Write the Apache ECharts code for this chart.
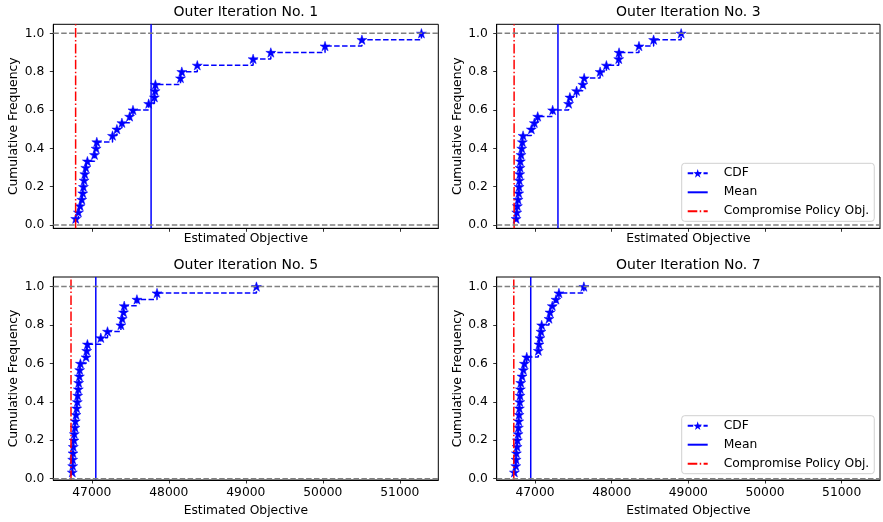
<!DOCTYPE html>
<html>
<head>
<meta charset="utf-8">
<script src="https://cdn.jsdelivr.net/npm/echarts@6/dist/echarts.min.js"></script>
<style>
  html, body { margin: 0; padding: 0; background: #fff; }
  #chart { width: 883px; height: 522px; }
</style>
</head>
<body>
<div id="chart"></div>
<script>
// sorted samples of the estimated objective, one array per outer iteration
const iter1 = [46791, 46826, 46848, 46870, 46883, 46891, 46900, 46909, 46922, 46943,
  47035, 47056, 47065, 47269, 47326, 47391, 47491, 47535, 47739, 47813,
  47822, 47826, 48152, 48169, 48370, 49095, 49325, 50029, 50508, 51281];
const iter3 = [46753, 46762, 46770, 46779, 46788, 46792, 46796, 46801, 46805, 46809,
  46818, 46827, 46835, 46844, 46952, 46991, 47035, 47230, 47438, 47455,
  47542, 47624, 47641, 47849, 47931, 48092, 48096, 48356, 48547, 48906];
const iter5 = [46747, 46752, 46752, 46756, 46760, 46769, 46773, 46782, 46786, 46795,
  46804, 46812, 46817, 46825, 46830, 46839, 46843, 46852, 46925, 46934,
  46943, 47117, 47204, 47378, 47395, 47412, 47421, 47586, 47847, 49138];
const iter7 = [46731, 46749, 46753, 46757, 46766, 46770, 46779, 46783, 46788, 46792,
  46796, 46801, 46805, 46809, 46814, 46831, 46848, 46861, 46892, 47043,
  47052, 47065, 47078, 47087, 47182, 47195, 47225, 47273, 47312, 47637];

const titles = ["Outer Iteration No. 1", "Outer Iteration No. 3", "Outer Iteration No. 5", "Outer Iteration No. 7"];
const meanValues = [47770, 47299, 47052, 46944];
const compromiseValues = [46790, 46727, 46730, 46723];
const xTicks = [47000, 48000, 49000, 50000, 51000];
const yTicks = [0, 0.2, 0.4, 0.6, 0.8, 1.0];
const refLevels = [0, 1];
const legendNames = ["CDF", "Mean", "Compromise Policy Obj."];

const FONT = "DejaVu Sans";
const FS = 12.3;
const X_MIN = 46500, X_MAX = 51500;

// panel boxes in px: [left, top, width, height, yMin, yMax]
const panels = [
  [53.3, 24.3, 385, 204, -0.017, 1.047],
  [496.7, 24.3, 383.3, 204, -0.017, 1.047],
  [53.3, 277, 385, 203, -0.007, 1.05],
  [496.7, 277, 383.3, 203, -0.007, 1.05],
];

function starPath() {
  const pts = [];
  for (let i = 0; i < 10; i++) {
    const r = i % 2 === 0 ? 1 : 0.381966;
    const a = Math.PI / 2 + i * Math.PI / 5;
    pts.push([(r * Math.cos(a) * 50 + 50).toFixed(2), (-r * Math.sin(a) * 50 + 50).toFixed(2)]);
  }
  return "path://M" + pts.map(p => p[0] + "," + p[1]).join("L") + "Z";
}
const STAR = starPath();

function cdfPoints(samples) {
  return samples.map((v, i) => [v, (i + 1) / samples.length]);
}

const samples = [iter1, iter3, iter5, iter7];
const grids = [], xAxes = [], yAxes = [], series = [], titleList = [];

panels.forEach((p, i) => {
  const [left, top, width, height, yMin, yMax] = p;
  const isTop = i < 2;
  grids.push({ left, top, width, height, show: true, borderColor: "#000", borderWidth: 1, backgroundColor: "transparent" });
  titleList.push({
    text: titles[i], left: left + width / 2, top: top - 19, textAlign: "center", padding: 0,
    textStyle: { fontFamily: FONT, fontSize: 14, fontWeight: "normal", color: "#000" },
  });
  xAxes.push({
    gridIndex: i, type: "value", min: X_MIN, max: X_MAX,
    name: "Estimated Objective", nameLocation: "middle", nameGap: isTop ? 5 : 25,
    nameTextStyle: { fontFamily: FONT, fontSize: FS, color: "#000" },
    axisLine: { onZero: false, lineStyle: { color: "#000", width: 1 } },
    axisTick: { show: true, length: 3.5, customValues: xTicks, lineStyle: { color: "#000", width: 0.8 } },
    axisLabel: { show: !isTop, customValues: xTicks, margin: 7, fontFamily: FONT, fontSize: FS, color: "#000", formatter: v => String(v) },
    splitLine: { show: false },
  });
  yAxes.push({
    gridIndex: i, type: "value", min: yMin, max: yMax,
    name: "Cumulative Frequency", nameLocation: "middle", nameGap: 33,
    nameTextStyle: { fontFamily: FONT, fontSize: FS, color: "#000" },
    axisLine: { show: true, onZero: false, lineStyle: { color: "#000", width: 1 } },
    axisTick: { show: true, length: 3.5, customValues: yTicks, lineStyle: { color: "#000", width: 0.8 } },
    axisLabel: { customValues: yTicks, margin: 9, fontFamily: FONT, fontSize: FS, color: "#000", formatter: v => v.toFixed(1) },
    splitLine: { show: false },
  });

  series.push({
    name: "CDF", type: "line", xAxisIndex: i, yAxisIndex: i, step: "end",
    data: cdfPoints(samples[i]),
    symbol: STAR, symbolSize: 10, symbolKeepAspect: true, showSymbol: true,
    itemStyle: { color: "#0000ff", borderColor: "#0000ff", borderWidth: 0.5 },
    lineStyle: { color: "#0000ff", width: 1.5, type: [5.5, 2.4] },
    z: 2,
  });
  series.push({
    name: "Mean", type: "line", xAxisIndex: i, yAxisIndex: i, symbol: "none",
    data: [[meanValues[i], yMin], [meanValues[i], yMax]],
    lineStyle: { color: "#0000ff", width: 1.5 }, itemStyle: { color: "#0000ff" },
    z: 3,
  });
  series.push({
    name: "Compromise Policy Obj.", type: "line", xAxisIndex: i, yAxisIndex: i, symbol: "none",
    data: [[compromiseValues[i], yMin], [compromiseValues[i], yMax]],
    lineStyle: { color: "#ff0000", width: 1.5, type: [9.6, 2.4, 1.5, 2.4] }, itemStyle: { color: "#ff0000" },
    z: 4,
  });
  refLevels.forEach(level => {
    series.push({
      name: "ref", type: "line", xAxisIndex: i, yAxisIndex: i, symbol: "none", silent: true,
      data: [[X_MIN, level], [X_MAX, level]],
      lineStyle: { color: "#808080", width: 1.5, type: [5.5, 2.4] },
      z: 5,
    });
  });
});

// no marker in the legend for the plain vertical lines
const hiddenMarker = { color: "rgba(0,0,0,0)", borderColor: "rgba(0,0,0,0)", borderWidth: 0, opacity: 0 };
const cdfMarker = { color: "#0000ff", borderWidth: 0 };

function legendAt(top) {
  return {
    orient: "vertical", left: 681.7, top,
    data: legendNames.map(n => ({ name: n, itemStyle: n === "CDF" ? cdfMarker : hiddenMarker })),
    itemWidth: 20, itemHeight: 11, itemGap: 4,
    padding: [2.5, 5, 2.5, 5], backgroundColor: "#fff", borderColor: "#d0d0d0", borderWidth: 1, borderRadius: 3,
    textStyle: { fontFamily: FONT, fontSize: FS, lineHeight: 15, color: "#000", padding: [0, 0, 0, 11] },
    selectedMode: false,
  };
}

const chart = echarts.init(document.getElementById("chart"), null, { renderer: "canvas" });
chart.setOption({
  animation: false,
  backgroundColor: "#fff",
  textStyle: { fontFamily: FONT },
  title: titleList,
  grid: grids,
  xAxis: xAxes,
  yAxis: yAxes,
  legend: [legendAt(163.3), legendAt(415.7)],
  series,
});
</script>
</body>
</html>
